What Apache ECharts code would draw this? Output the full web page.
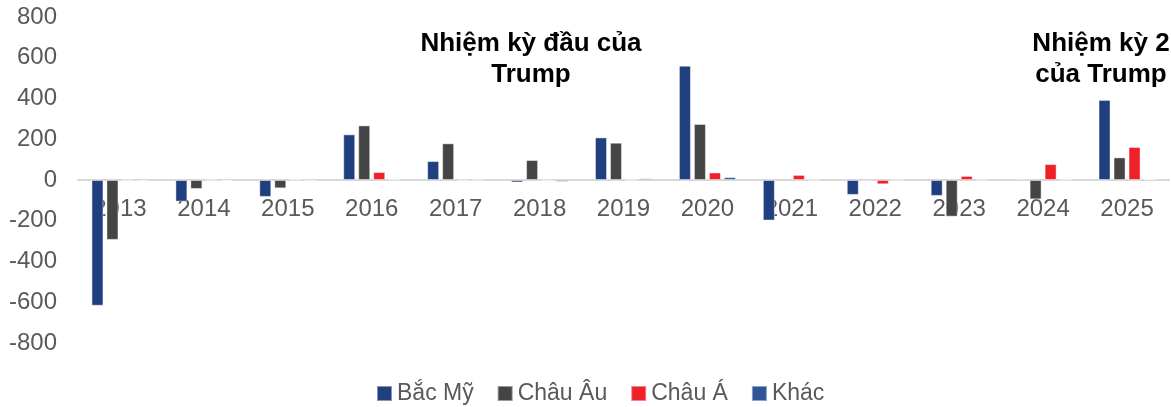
<!DOCTYPE html>
<html>
<head>
<meta charset="utf-8">
<script src="https://cdn.jsdelivr.net/npm/echarts@6/dist/echarts.min.js"></script>
<style>
  html, body { margin: 0; padding: 0; background: #ffffff; }
  #chart { width: 1171px; height: 407px; }
</style>
</head>
<body>
<div id="chart"></div>
<script>
// Years on the category axis
const years = ['2013', '2014', '2015', '2016', '2017', '2018', '2019', '2020', '2021', '2022', '2023', '2024', '2025'];

// Values by region
const bacMy  = [-617, -106, -83, 224, 93, -12, 209, 561, -199, -73, -78, 6, 393];
const chauAu = [-294, -44, -41, 268, 180, 98, 183, 275, -7, -6, -180, -95, 111];
const chauA  = [-3, 0, 3, 39, -3, -3, 0, 37, 25, -21, 20, 78, 162];
const khac   = [-5, -5, -4, 3, 0, -9, 8, 14, 0, 0, 0, 2, 5];

// Series names (legend labels)
const seriesNames = ['Bắc Mỹ', 'Châu Âu', 'Châu Á', 'Khác'];
const seriesData = [bacMy, chauAu, chauA, khac];
const seriesColors = ['#1F3F7E', '#454545', '#EE2028', '#2F5597'];

// Annotation texts
const noteFirst = 'Nhiệm kỳ đầu của\nTrump';
const noteSecond = 'Nhiệm kỳ 2\ncủa Trump';

const FONT = 'Arial, "Liberation Sans", sans-serif';

const Y_MIN = -800, Y_MAX = 800;
const GRID_TOP = 17, GRID_BOTTOM = 64, HEIGHT = 407;

// The category axis sits on the zero line: shift it up from the grid bottom
const plotH = HEIGHT - GRID_TOP - GRID_BOTTOM;
const zeroShift = plotH * (0 - Y_MIN) / (Y_MAX - Y_MIN);

const chart = echarts.init(document.getElementById('chart'), null, { renderer: 'canvas' });

chart.setOption({
  backgroundColor: '#ffffff',
  animation: false,
  textStyle: { fontFamily: FONT },
  grid: { left: 78, right: 2, top: GRID_TOP, bottom: GRID_BOTTOM, containLabel: false },
  legend: {
    data: seriesNames,
    bottom: 2,
    left: 376,
    padding: 0,
    icon: 'rect',
    itemWidth: 15,
    itemHeight: 15,
    itemGap: 23,
    textStyle: { fontSize: 23, color: '#595959', fontFamily: FONT }
  },
  xAxis: {
    type: 'category',
    data: years,
    position: 'bottom',
    offset: -zeroShift,
    axisLine: { onZero: false, lineStyle: { color: '#D9D9D9', width: 2 } },
    axisTick: { show: false },
    axisLabel: { fontSize: 24, color: '#595959', margin: 17, fontFamily: FONT }
  },
  yAxis: {
    type: 'value',
    min: Y_MIN,
    max: Y_MAX,
    interval: 200,
    splitLine: { show: false },
    axisLine: { show: false },
    axisTick: { show: false },
    axisLabel: { fontSize: 24, color: '#595959', margin: 21, fontFamily: FONT }
  },
  series: seriesNames.map((name, i) => ({
    name: name,
    type: 'bar',
    data: seriesData[i],
    barWidth: 12,
    barGap: '25%',
    itemStyle: {
      color: seriesColors[i],
      borderColor: 'rgba(255,255,255,0.45)',
      borderWidth: 1
    }
  })),
  graphic: [
    {
      type: 'text',
      x: 531,
      y: 28,
      z: 10,
      style: {
        text: noteFirst,
        font: 'bold 26px ' + FONT,
        fill: '#000000',
        align: 'center',
        verticalAlign: 'top',
        lineHeight: 31
      }
    },
    {
      type: 'text',
      x: 1101,
      y: 28,
      z: 10,
      style: {
        text: noteSecond,
        font: 'bold 26px ' + FONT,
        fill: '#000000',
        align: 'center',
        verticalAlign: 'top',
        lineHeight: 31
      }
    }
  ]
});
</script>
</body>
</html>
